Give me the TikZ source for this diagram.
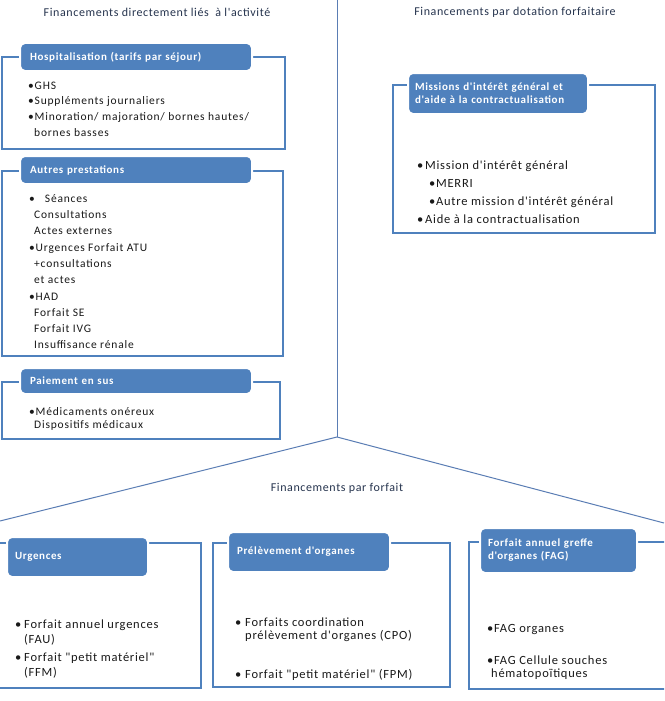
\documentclass[tikz,border=0pt]{standalone}
\usepackage{fontspec}
\setmainfont{Carlito}
\newfontfamily\lsA[LetterSpace=7]{Carlito}
\newfontfamily\lsB[LetterSpace=6]{Carlito}
\newfontfamily\lsT[LetterSpace=5]{Carlito}
\newfontfamily\lsH[LetterSpace=6]{Carlito}
\definecolor{hdblue}{RGB}{79,129,189}
\definecolor{frblue}{RGB}{79,129,189}
\definecolor{lnblue}{RGB}{90,125,180}
\definecolor{ttl}{RGB}{38,52,78}
\definecolor{txt}{RGB}{25,25,25}
\newcommand\bulw{\makebox[9pt][l]{•}}
\tikzset{
  frame/.style={draw=frblue,line width=1.8pt,inner sep=0pt,fill=white},
  hdr/.style={fill=hdblue,draw=white,line width=2pt,rounded corners=5pt,text=white,
     font=\lsH\fontsize{11}{13}\selectfont\bfseries,align=left,inner ysep=0pt},
  itm/.style={anchor=base west,inner sep=0pt,text=txt,font=\lsA\fontsize{11.5}{14}\selectfont},
  itmb/.style={anchor=base west,inner sep=0pt,text=txt,font=\lsB\fontsize{12.5}{15}\selectfont},
  ttlst/.style={inner sep=0pt,text=ttl,font=\lsT\fontsize{12}{14}\selectfont},
  divline/.style={draw=lnblue,line width=1pt}
}
\begin{document}
\begin{tikzpicture}[x=1pt,y=-1pt]
\useasboundingbox (0,0) rectangle (664,701);
\clip (0,0) rectangle (664,701);
\fill[white] (0,0) rectangle (664,701);
% dividers
\coordinate (top) at (337,0);
\coordinate (apex) at (337,437);
\coordinate (lend) at (0,521);
\coordinate (rend) at (664,523);
\draw[divline] (top) -- (apex);
\draw[divline] (lend) -- (apex) -- (rend);
% titles
\node[ttlst] (t1) at (157,12) {Financements directement liés \ à l'activité};
\node[ttlst] (t2) at (515,12) {Financements par dotation forfaitaire};
\node[ttlst] (t3) at (337,488) {Financements par forfait};
% box 1
\node[frame,minimum width=283pt,minimum height=92pt] (f1) at (143.5,103) {};
\node[hdr,minimum width=232pt,minimum height=28pt,text width=212pt,inner xsep=10pt] (h1) at (136,57) {Hospitalisation (tarifs par séjour)};
\node[itm] (a1) at (28,89) {•GHS};
\node[itm] (a2) at (28,104) {•Suppléments journaliers};
\node[itm] (a3) at (28,120) {•Minoration/ majoration/ bornes hautes/};
\node[itm] (a4) at (34,136) {bornes basses};
% box 2
\node[frame,minimum width=281pt,minimum height=185pt] (f2) at (142.5,263.5) {};
\node[hdr,minimum width=232pt,minimum height=28pt,text width=212pt,inner xsep=10pt] (h2) at (136,170) {Autres prestations};
\node[itm] (b1) at (29,202) {•\hspace{10pt}Séances};
\node[itm] (b2) at (34,218) {Consultations};
\node[itm] (b3) at (34,234) {Actes externes};
\node[itm] (b4) at (29,251) {•Urgences Forfait ATU};
\node[itm] (b5) at (34,267) {+consultations};
\node[itm] (b6) at (34,283) {et actes};
\node[itm] (b7) at (29,300) {•HAD};
\node[itm] (b8) at (34,316) {Forfait SE};
\node[itm] (b9) at (34,332) {Forfait IVG};
\node[itm] (b10) at (34,348) {Insuffisance rénale};
% box 3
\node[frame,minimum width=278pt,minimum height=57pt] (f3) at (141,410.5) {};
\node[hdr,minimum width=232pt,minimum height=26pt,text width=212pt,inner xsep=10pt] (h3) at (136,381) {Paiement en sus};
\node[itm] (c1) at (29,415) {•Médicaments onéreux};
\node[itm] (c2) at (34,428) {Dispositifs médicaux};
% box 4
\node[frame,minimum width=262pt,minimum height=148pt] (f4) at (524,159) {};
\node[hdr,minimum width=180pt,minimum height=41pt,text width=166pt,inner xsep=7pt] (h4) at (498,93.5) {Missions d'intérêt général et\\d'aide à la contractualisation};
\node[itmb] (d1) at (417,169) {\makebox[8pt][l]{•}Mission d'intérêt général};
\node[itmb] (d2) at (429,187) {\makebox[7pt][l]{•}MERRI};
\node[itmb] (d3) at (429,205) {\makebox[7pt][l]{•}Autre mission d'intérêt général};
\node[itmb] (d4) at (417,223) {\makebox[8pt][l]{•}Aide à la contractualisation};
% box 5
\node[frame,minimum width=204pt,minimum height=145pt] (f5) at (99,615.5) {};
\node[hdr,minimum width=141pt,minimum height=40pt,text width=125pt,inner xsep=8pt] (h5) at (77.5,557) {Urgences};
\node[itmb] (e1) at (15,628) {\bulw Forfait annuel urgences};
\node[itmb] (e2) at (24,643) {(FAU)};
\node[itmb] (e3) at (15,661) {\bulw Forfait "petit matériel"};
\node[itmb] (e4) at (24,676) {(FFM)};
% box 6
\node[frame,minimum width=237pt,minimum height=144pt] (f6) at (331.5,615) {};
\node[hdr,minimum width=162pt,minimum height=40pt,text width=144pt,inner xsep=9pt] (h6) at (309,552) {Prélèvement d'organes};
\node[itmb] (g1) at (235,626) {\makebox[10pt][l]{•}Forfaits coordination};
\node[itmb] (g2) at (245,639) {prélèvement d'organes (CPO)};
\node[itmb] (g3) at (235,678) {\makebox[10pt][l]{•}Forfait "petit matériel" (FPM)};
% box 7
\node[frame,minimum width=201pt,minimum height=147pt] (f7) at (569.5,615.5) {};
\node[hdr,minimum width=157pt,minimum height=45pt,text width=141pt,inner xsep=8pt] (h7) at (558.5,550.5) {Forfait annuel greffe\\d'organes (FAG)};
\node[itmb] (k1) at (487,632) {•FAG organes};
\node[itmb] (k2) at (487,664) {•FAG Cellule souches};
\node[itmb] (k3) at (491,677) {hématopoïtiques};
\end{tikzpicture}
\end{document}
